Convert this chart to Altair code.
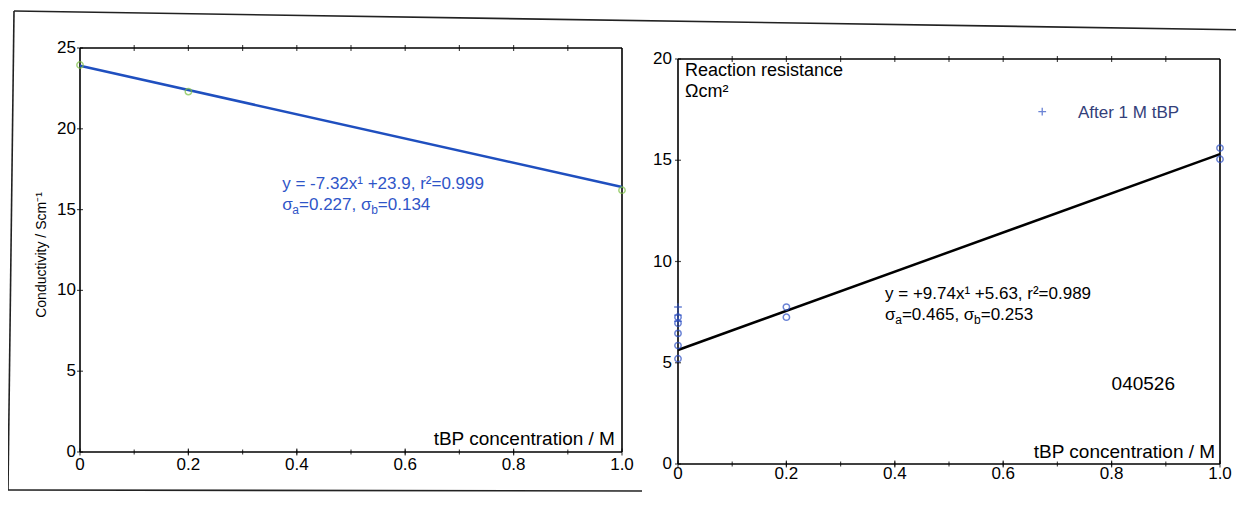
import altair as alt
import pandas as pd

FONT = "Liberation Sans"

# ---------------- data ----------------
x_label_pos = [0.0, 0.2, 0.4, 0.6, 0.8, 1.0]
x_labels = ["0", "0.2", "0.4", "0.6", "0.8", "1.0"]
minor_x = [0.1, 0.2, 0.3, 0.4, 0.5, 0.6, 0.7, 0.8, 0.9]
cond_y_ticks = [0, 5, 10, 15, 20, 25]
res_y_ticks = [0, 5, 10, 15, 20]

# left panel: conductivity
cond_x = [0.0, 0.2, 1.0]
cond_y = [23.95, 22.3, 16.2]
cond_fit_x = [0.0, 1.0]
cond_fit_y = [23.9, 16.4]

# right panel: reaction resistance
res_x = [0.0, 0.0, 0.0, 0.0, 0.0, 0.2, 0.2, 1.0, 1.0]
res_y = [7.25, 6.95, 6.45, 5.85, 5.2, 7.75, 7.25, 15.6, 15.05]
res_plus_x = [0.0, 0.0, 0.0]
res_plus_y = [7.75, 7.35, 7.05]
res_fit_x = [0.0, 1.0]
res_fit_y = [5.63, 15.3]

# ---------------- geometry / scales ----------------
W, H = 1140, 416
xL = alt.Scale(domain=[0, 1], range=[0, 542], nice=False)
yL = alt.Scale(domain=[0, 25], range=[404, 0], nice=False)
xR = alt.Scale(domain=[0, 1], range=[598, 1140], nice=False)
yR = alt.Scale(domain=[0, 20], range=[416, 11], nice=False)

BLUE_TXT = "#2f55c8"
GREEN = "#7cc043"
BLUE_PT = "#2d50c4"
LINE_BLUE = "#1f4fbf"

dummy = pd.DataFrame({"a": [0]})


def enc(xs, ys):
    return dict(x=alt.X("x:Q", scale=xs, axis=None),
                y=alt.Y("y:Q", scale=ys, axis=None))


def text_at(x, y, s, xs, ys, size=18, color="black", align="left", dx=0, dy=0):
    df = pd.DataFrame({"x": [x], "y": [y], "t": [s]})
    return alt.Chart(df).mark_text(
        align=align, baseline="alphabetic", font=FONT, fontSize=size,
        color=color, dx=dx, dy=dy
    ).encode(text="t:N", **enc(xs, ys))


# approximate advance widths (em) for Liberation Sans
WID = {"=": 0.584, ".": 0.278, ",": 0.278, " ": 0.278, "σ": 0.6}


def tw(s, size):
    return sum(WID.get(c, 0.556) for c in s) * size


def sigma_line(x, y, a_val, b_val, xs, ys, color, size=17, sub=12):
    parts = []
    pos = 0.0
    segs = [("σ", size, 0), ("a", sub, 4), ("=" + a_val + ", σ", size, 0),
            ("b", sub, 4), ("=" + b_val, size, 0)]
    for s, fs, dy in segs:
        parts.append(text_at(x, y, s, xs, ys, size=fs, color=color, dx=pos, dy=dy))
        pos += tw(s, fs)
    return parts


def rule_data(xs, ys, x1, x2, y1, y2, width=1.6):
    df = pd.DataFrame({"x": [x1], "x2": [x2], "y": [y1], "y2": [y2]})
    return alt.Chart(df).mark_rule(color="black", strokeWidth=width).encode(
        x2="x2:Q", y2="y2:Q", **enc(xs, ys))


def xticks(xs, ys, xvals, yval, size):
    df = pd.DataFrame({"x": xvals, "y": [yval] * len(xvals)})
    return alt.Chart(df).mark_tick(orient="vertical", size=size, thickness=1.2,
                                   color="black").encode(**enc(xs, ys))


def yticks(xs, ys, yvals, xval, size):
    df = pd.DataFrame({"x": [xval] * len(yvals), "y": yvals})
    return alt.Chart(df).mark_tick(orient="horizontal", size=size, thickness=1.2,
                                   color="black").encode(**enc(xs, ys))


def xlabels(xs, ys, yval, dy):
    df = pd.DataFrame({"x": x_label_pos, "y": [yval] * len(x_label_pos),
                       "t": x_labels})
    return alt.Chart(df).mark_text(
        align="center", baseline="top", font=FONT, fontSize=17, color="black", dy=dy
    ).encode(text="t:N", **enc(xs, ys))


def ylabels(xs, ys, yvals, dx):
    df = pd.DataFrame({"x": [0.0] * len(yvals), "y": yvals,
                       "t": [str(v) for v in yvals]})
    return alt.Chart(df).mark_text(
        align="right", baseline="middle", font=FONT, fontSize=17, color="black", dx=dx
    ).encode(text="t:N", **enc(xs, ys))


def frame(xs, ys, ytop):
    return [
        rule_data(xs, ys, 0, 1, 0, 0),
        rule_data(xs, ys, 0, 1, ytop, ytop),
        rule_data(xs, ys, 0, 0, 0, ytop),
        rule_data(xs, ys, 1, 1, 0, ytop),
        xticks(xs, ys, x_label_pos, 0, 7),
        xticks(xs, ys, minor_x, 0, 5),
        xticks(xs, ys, minor_x, ytop, 6),
    ]


# ---------------- left panel ----------------
cond_df = pd.DataFrame({"x": cond_x, "y": cond_y})
cond_fit_df = pd.DataFrame({"x": cond_fit_x, "y": cond_fit_y})

left_points = alt.Chart(cond_df).mark_point(
    shape="circle", filled=False, color=GREEN, size=40, strokeWidth=1.5
).encode(**enc(xL, yL))

left_line = alt.Chart(cond_fit_df).mark_line(
    color=LINE_BLUE, strokeWidth=2.5).encode(**enc(xL, yL))

left_layers = [
    *frame(xL, yL, 25),
    yticks(xL, yL, cond_y_ticks, 0, 6),
    xlabels(xL, yL, 0, 5),
    ylabels(xL, yL, cond_y_ticks, -4),
    left_line,
    left_points,
    text_at(0.373, 16.25, "y = -7.32x¹ +23.9, r²=0.999", xL, yL, size=17, color=BLUE_TXT),
    *sigma_line(0.373, 14.95, "0.227", "0.134", xL, yL, BLUE_TXT),
    text_at(0.987, 0.45, "tBP concentration / M", xL, yL, size=19, align="right"),
    # y-axis title
    alt.Chart(dummy).mark_text(
        angle=270, align="center", baseline="middle", font=FONT, fontSize=14,
        color="black"
    ).encode(x=alt.value(-38), y=alt.value(207), text=alt.value("Conductivity / Scm⁻¹")),
    # outer frame of the figure (pixel positions)
    alt.Chart(dummy).mark_rule(color="#222", strokeWidth=1.6).encode(
        x=alt.value(-66), x2=alt.value(1172), y=alt.value(-37), y2=alt.value(-18)),
    alt.Chart(dummy).mark_rule(color="#222", strokeWidth=1.6).encode(
        x=alt.value(-66), x2=alt.value(-72), y=alt.value(-37), y2=alt.value(442)),
    alt.Chart(dummy).mark_rule(color="#222", strokeWidth=1.6).encode(
        x=alt.value(-72), x2=alt.value(562), y=alt.value(442), y2=alt.value(443)),
]
left = alt.layer(*left_layers)

# ---------------- right panel ----------------
res_df = pd.DataFrame({"x": res_x, "y": res_y})
res_plus_df = pd.DataFrame({"x": res_plus_x, "y": res_plus_y})
res_fit_df = pd.DataFrame({"x": res_fit_x, "y": res_fit_y})

PLUS = "M-1,0L1,0M0,-1L0,1"

right_points = alt.Chart(res_df).mark_point(
    shape="circle", filled=False, color=BLUE_PT, size=40, strokeWidth=1.5
).encode(**enc(xR, yR))

right_plus = alt.Chart(res_plus_df).mark_point(
    shape=PLUS, filled=False, color=BLUE_PT, size=60, strokeWidth=1.4
).encode(**enc(xR, yR))

right_line = alt.Chart(res_fit_df).mark_line(
    color="black", strokeWidth=2.5).encode(**enc(xR, yR))

legend_plus = alt.Chart(pd.DataFrame({"x": [0.672], "y": [17.4]})).mark_point(
    shape=PLUS, filled=False, color=BLUE_PT, size=60, strokeWidth=1.3
).encode(**enc(xR, yR))

right_layers = [
    *frame(xR, yR, 20),
    yticks(xR, yR, res_y_ticks, 0, 6),
    xlabels(xR, yR, 0, 2),
    ylabels(xR, yR, res_y_ticks, -6),
    right_line,
    right_plus,
    right_points,
    legend_plus,
    text_at(0.738, 17.1, "After 1 M tBP", xR, yR, size=17, color="#33407a"),
    text_at(0.013, 19.15, "Reaction resistance", xR, yR, size=18),
    text_at(0.013, 18.1, "Ωcm²", xR, yR, size=18),
    text_at(0.382, 8.15, "y = +9.74x¹ +5.63, r²=0.989", xR, yR, size=17),
    *sigma_line(0.382, 7.1, "0.465", "0.253", xR, yR, "black"),
    text_at(0.80, 3.65, "040526", xR, yR, size=19),
    text_at(0.991, 0.3, "tBP concentration / M", xR, yR, size=19, align="right"),
]
right = alt.layer(*right_layers)

chart = alt.layer(left, right).resolve_scale(
    x="independent", y="independent"
).properties(
    width=W, height=H,
    autosize=alt.AutoSizeParams(type="none"),
    padding={"left": 72, "top": 40, "right": 16, "bottom": 40},
).configure_view(
    strokeWidth=0
)

chart.save("out.html", embed_options={"renderer": "svg", "actions": False})
